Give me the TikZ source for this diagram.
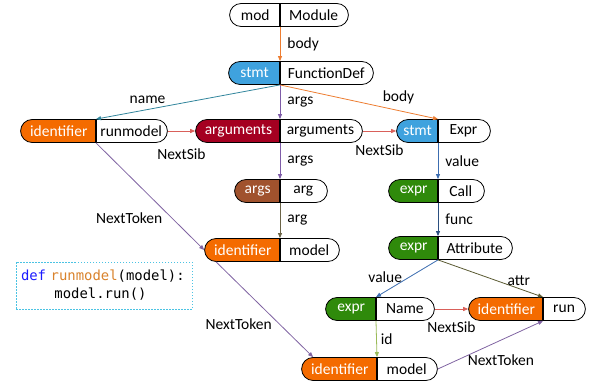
\documentclass[tikz,border=0pt]{standalone}
\usepackage{fontspec}
\setmainfont{Carlito}
\newfontfamily\codefont{DejaVu Sans Mono}
\usetikzlibrary{shapes.misc,arrows.meta}
\definecolor{identc}{HTML}{F46B00}
\definecolor{stmtc}{HTML}{3FA2DE}
\definecolor{argsc}{HTML}{A50021}
\definecolor{argc}{HTML}{A0522D}
\definecolor{exprc}{HTML}{2F8A0B}
\definecolor{bodyc}{HTML}{ED7D31}
\definecolor{namec}{HTML}{31859C}
\definecolor{argsl}{HTML}{7E5CA8}
\definecolor{sibc}{HTML}{D9605A}
\definecolor{argl}{HTML}{6B6447}
\definecolor{valuec}{HTML}{3C6DB0}
\definecolor{funcc}{HTML}{2B4F80}
\definecolor{attrc}{HTML}{5A5A32}
\definecolor{idc}{HTML}{9BBB59}
\definecolor{tokc}{HTML}{8064A2}
\definecolor{codec}{HTML}{4BC3E3}
\definecolor{kwc}{HTML}{1A1AFF}
\definecolor{fnc}{HTML}{D9822B}

\tikzset{
	pill/.style={rounded rectangle, draw=black, line width=0.8pt, minimum height=23pt, inner sep=0pt},
	typ/.style={pill, rounded rectangle right arc=none, anchor=east, fill=#1, text=white},
	val/.style={pill, rounded rectangle left arc=none, anchor=west, fill=white},
	lbl/.style={inner sep=1pt, text=black},
	link/.style={draw=#1, line width=0.8pt, -{Triangle[length=5pt,width=4pt]}},
}

\begin{document}
\begin{tikzpicture}[x=1pt, y=-1pt, font=\fontsize{15.5}{18}\selectfont]
	\useasboundingbox (0,0) rectangle (594,383);

	% tree nodes
	\node[typ=white, text=black, minimum width=50pt] (mod-t) at (280,15) {mod};
	\node[val, minimum width=68pt] (mod) at (280,15) {Module};

	\node[typ=stmtc, minimum width=51pt] (fd-t) at (280,73) {stmt};
	\node[val, minimum width=93pt] (fd) at (280,73) {FunctionDef};

	\node[typ=identc, minimum width=75pt] (runmodel-t) at (96,131) {identifier};
	\node[val, minimum width=71pt] (runmodel) at (96,131) {runmodel};

	\node[typ=argsc, minimum width=84pt] (arguments-t) at (280,131) {arguments};
	\node[val, minimum width=82pt] (arguments) at (280,131) {arguments};

	\node[typ=stmtc, minimum width=41pt] (expr-t) at (438,131) {stmt};
	\node[val, minimum width=52pt] (expr) at (438,131) {Expr};

	\node[typ=argc, minimum width=45pt] (arg-t) at (280,191) {args};
	\node[val, minimum width=47pt] (arg) at (280,191) {arg};

	\node[typ=identc, minimum width=75pt] (model1-t) at (280,250) {identifier};
	\node[val, minimum width=59pt] (model1) at (280,250) {model};

	\node[typ=exprc, minimum width=49pt] (call-t) at (438,191) {expr};
	\node[val, minimum width=46pt] (call) at (438,191) {Call};

	\node[typ=exprc, minimum width=49pt] (attr-t) at (438,248) {expr};
	\node[val, minimum width=74pt] (attr) at (438,248) {Attribute};

	\node[typ=exprc, minimum width=50pt] (name-t) at (376,309) {expr};
	\node[val, minimum width=58pt] (name) at (376,309) {Name};

	\node[typ=identc, minimum width=74pt] (run-t) at (543,309) {identifier};
	\node[val, minimum width=42pt] (run) at (543,309) {run};

	\node[typ=identc, minimum width=75pt] (model2-t) at (377,369) {identifier};
	\node[val, minimum width=60pt] (model2) at (377,369) {model};

	% child edges
	\draw[link=bodyc] (mod.south west) -- node[lbl, right=6pt] (l-body1) {body} (fd.north west);
	\draw[link=namec] (fd.south west) -- node[lbl, pos=.72, above=5pt] (l-name) {name} (runmodel.north west);
	\draw[link=argsl] (fd.south west) -- node[lbl, right=6pt] (l-args1) {args} (arguments.north west);
	\draw[link=bodyc] (fd.south west) -- node[lbl, pos=.75, above=5pt] (l-body2) {body} (expr.north west);
	\draw[link=argsl] (arguments.south west) -- node[lbl, right=6pt] (l-args2) {args} (arg.north west);
	\draw[link=argl] (arg.south west) -- node[lbl, right=6pt] (l-arg) {arg} (model1.north west);
	\draw[link=valuec] (expr.south west) -- node[lbl, right=6pt] (l-value1) {value} (call.north west);
	\draw[link=funcc] (call.south west) -- node[lbl, right=6pt] (l-func) {func} (attr.north west);
	\draw[link=valuec] (attr.south west) -- node[lbl, pos=.46, left=6pt] (l-value2) {value} (name.north west);
	\draw[link=attrc] (attr.south west) -- node[lbl, pos=.77, above=2pt] (l-attr) {attr} (run.north west);
	\draw[link=idc] (name.south west) -- node[lbl, right=3pt] (l-id) {id} (model2.north west);

	% sibling edges
	\draw[link=sibc] (runmodel.east) -- node[lbl, below=16pt] (l-sib1) {NextSib} (arguments-t.west);
	\draw[link=sibc] (arguments.east) -- node[lbl, below=12pt] (l-sib2) {NextSib} (expr-t.west);
	\draw[link=sibc] (name.east) -- node[lbl, below=11pt] (l-sib3) {NextSib} (run-t.west);

	% token edges
	\draw[link=tokc] (runmodel.south west) -- node[lbl, pos=.7, left=8pt] (l-tok1) {NextToken} (model1-t.west);
	\draw[link=tokc] (model1-t.south west) -- node[lbl, pos=.65, left=6pt] (l-tok2) {NextToken} (model2-t.north west);
	\draw[link=tokc] (model2.east) -- node[lbl, pos=.6, below=13pt] (l-tok3) {NextToken} (run.south west);

	% source code
	\node[draw=codec, line width=0.8pt, dash pattern=on 1.5pt off 1.5pt, minimum height=47pt,
		text width=166pt, inner xsep=5pt, align=left,
		font=\codefont\fontsize{13.9}{18}\selectfont] (code) at (104,285.5)
		{\textcolor{kwc}{def} \textcolor{fnc}{runmodel}(model):\\\phantom{0000}model.run()};
\end{tikzpicture}
\end{document}
